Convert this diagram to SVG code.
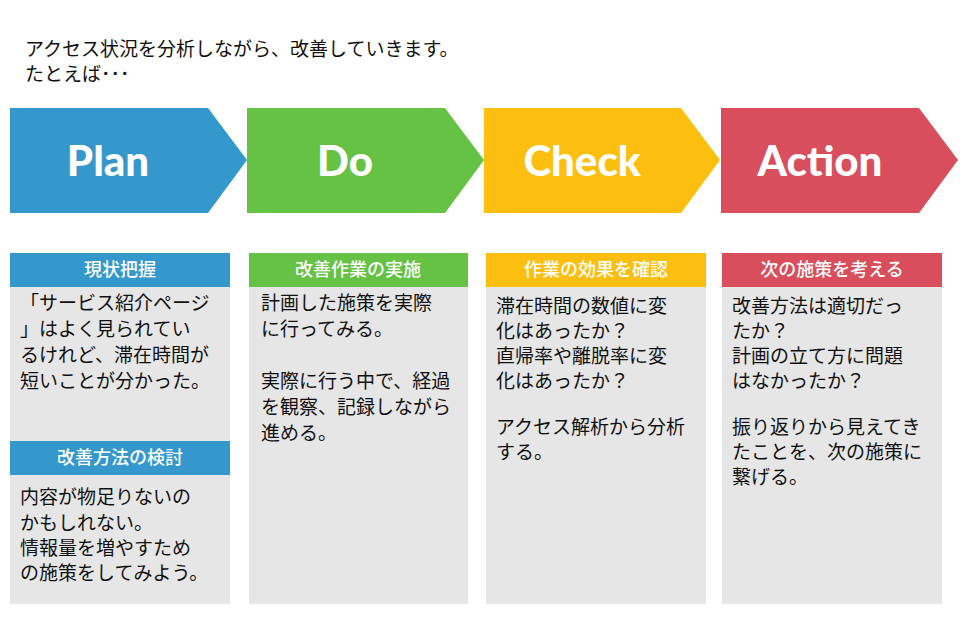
<svg xmlns="http://www.w3.org/2000/svg" width="960" height="640" viewBox="0 0 960 640">
<style>
text{font-family:"Noto Sans CJK JP","Noto Sans",sans-serif}
.t{font-size:19px;fill:#111}
.h{font-size:18px;fill:#fff;text-anchor:middle;font-weight:500}
.big{font-family:"Lato","Noto Sans",sans-serif;font-size:42px;font-weight:900;fill:#fff;text-anchor:middle}
.g{fill:#e6e6e6}
</style>
<rect width="960" height="640" fill="#fff"/>
<text class="t" x="25" y="56">アクセス状況を分析しながら、改善していきます。</text>
<text class="t" x="25" y="81">たとえば･･･</text>
<g id="plan">
<polygon points="10,108 208,108 247,160 208,213 10,213" fill="#3598cc"/>
<text class="big" x="108" y="176">Plan</text>
<rect x="10" y="253" width="220" height="34" fill="#3598cc"/>
<text class="h" x="120" y="276">現状把握</text>
<rect class="g" x="10" y="287" width="220" height="154"/>
<text class="t" x="20" y="310">「サービス紹介ページ</text>
<text class="t" x="20" y="336">」はよく見られてい</text>
<text class="t" x="20" y="362">るけれど、滞在時間が</text>
<text class="t" x="20" y="388">短いことが分かった。</text>
<rect x="10" y="441" width="220" height="34" fill="#3598cc"/>
<text class="h" x="120" y="464">改善方法の検討</text>
<rect class="g" x="10" y="475" width="220" height="129"/>
<text class="t" x="20" y="504">内容が物足りないの</text>
<text class="t" x="20" y="530">かもしれない。</text>
<text class="t" x="20" y="555">情報量を増やすため</text>
<text class="t" x="20" y="580">の施策をしてみよう。</text>
</g>
<g id="do">
<polygon points="247,108 445,108 484,160 445,213 247,213" fill="#66c245"/>
<text class="big" x="345" y="176">Do</text>
<rect x="249" y="253" width="219" height="34" fill="#66c245"/>
<text class="h" x="358" y="276">改善作業の実施</text>
<rect class="g" x="249" y="287" width="219" height="317"/>
<text class="t" x="261" y="310">計画した施策を実際</text>
<text class="t" x="261" y="336">に行ってみる。</text>
<text class="t" x="261" y="388">実際に行う中で、経過</text>
<text class="t" x="261" y="414">を観察、記録しながら</text>
<text class="t" x="261" y="440">進める。</text>
</g>
<g id="check">
<polygon points="484,108 681,108 720,160 681,213 484,213" fill="#fcbf0f"/>
<text class="big" x="582" y="176">Check</text>
<rect x="486" y="253" width="220" height="34" fill="#fcbf0f"/>
<text class="h" x="596" y="276">作業の効果を確認</text>
<rect class="g" x="486" y="287" width="220" height="317"/>
<text class="t" x="496" y="313">滞在時間の数値に変</text>
<text class="t" x="496" y="338">化はあったか？</text>
<text class="t" x="496" y="363">直帰率や離脱率に変</text>
<text class="t" x="496" y="388">化はあったか？</text>
<text class="t" x="496" y="434">アクセス解析から分析</text>
<text class="t" x="496" y="459">する。</text>
</g>
<g id="action">
<polygon points="721,108 919,108 958,160 919,213 721,213" fill="#d94e5c"/>
<text class="big" x="820" y="176">Action</text>
<rect x="722" y="253" width="220" height="34" fill="#d94e5c"/>
<text class="h" x="832" y="276">次の施策を考える</text>
<rect class="g" x="722" y="287" width="220" height="317"/>
<text class="t" x="732" y="313">改善方法は適切だっ</text>
<text class="t" x="732" y="338">たか？</text>
<text class="t" x="732" y="363">計画の立て方に問題</text>
<text class="t" x="732" y="388">はなかったか？</text>
<text class="t" x="732" y="434">振り返りから見えてき</text>
<text class="t" x="732" y="459">たことを、次の施策に</text>
<text class="t" x="732" y="484">繋げる。</text>
</g>
<g id="connectors"/>
</svg>
